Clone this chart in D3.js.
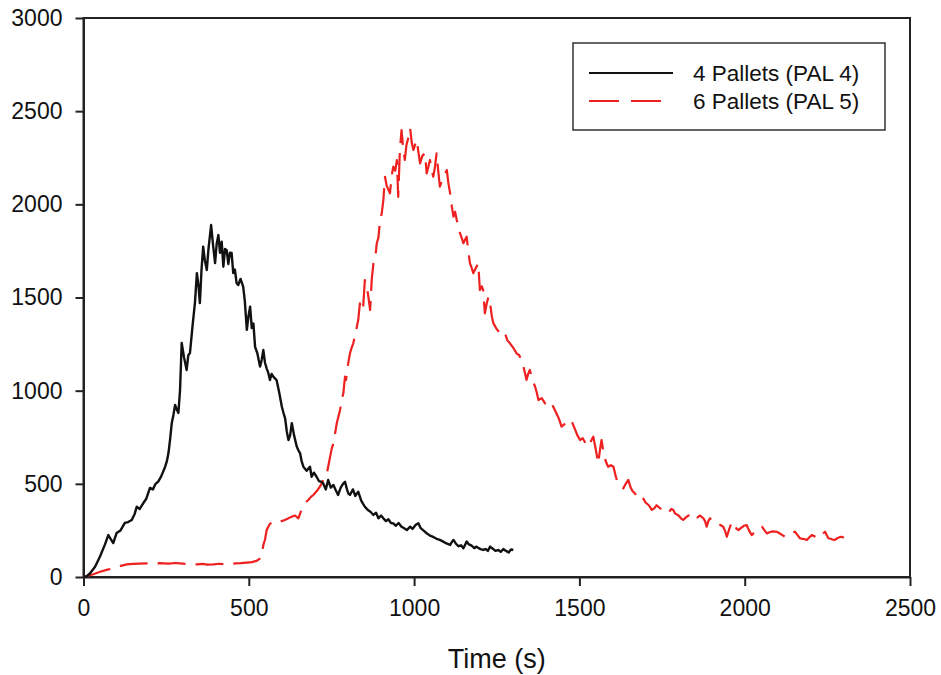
<!DOCTYPE html>
<html>
<head>
<meta charset="utf-8">
<script src="https://cdn.jsdelivr.net/npm/d3@7"></script>
<style>
  body { margin: 0; background: #fff; }
  text { font-family: "Liberation Sans", Arial, sans-serif; fill: #111; }
</style>
</head>
<body>
<script>
// time axis ticks and temperature axis ticks
const xTicks = [0, 500, 1000, 1500, 2000, 2500];
const yTicks = [0, 500, 1000, 1500, 2000, 2500, 3000];
const seriesNames = ['4 Pallets (PAL 4)', '6 Pallets (PAL 5)'];

// 4 pallets (PAL 4)
const pal4Time = [0, 10, 20, 35, 50, 65, 75, 82, 90, 100, 112, 125, 135, 146, 155, 161, 170, 181, 190, 201,
    210, 218, 226, 235, 247, 252, 257, 262, 267, 272, 277, 282, 287, 292, 297, 304, 312, 317, 322, 330,
    337, 343, 348, 352, 357, 362, 367, 373, 378, 386, 392, 398, 403, 408, 413, 418, 423, 428, 433, 438,
    443, 448, 453, 458, 463, 468, 475, 483, 488, 494, 499, 504, 509, 514, 519, 526, 534, 539, 544, 549,
    554, 559, 564, 569, 574, 584, 592, 600, 605, 610, 615, 620, 625, 630, 637, 645, 650, 655, 660, 665,
    675, 685, 690, 697, 705, 712, 720, 725, 733, 740, 748, 756, 762, 770, 778, 786, 791, 797, 801, 806,
    815, 822, 831, 840, 851, 860, 868, 877, 885, 892, 900, 907, 915, 922, 930, 937, 945, 953, 962, 970,
    978, 988, 995, 1005, 1013, 1020, 1028, 1038, 1048, 1058, 1068, 1078, 1088, 1098, 1109, 1114, 1119, 1126, 1134, 1142,
    1149, 1154, 1159, 1166, 1174, 1182, 1189, 1195, 1201, 1209, 1216, 1223, 1230, 1238, 1246, 1255, 1262, 1270, 1278, 1286,
    1293, 1300];
const pal4Temp = [0, 5, 20, 55, 110, 175, 225, 205, 182, 236, 250, 290, 295, 306, 340, 377, 365, 397, 420, 478,
    470, 500, 512, 540, 592, 620, 665, 740, 826, 870, 923, 900, 880, 1003, 1256, 1180, 1111, 1190, 1202, 1350,
    1470, 1631, 1560, 1470, 1650, 1773, 1700, 1648, 1760, 1889, 1780, 1685, 1790, 1835, 1740, 1800, 1665, 1760, 1755, 1680,
    1740, 1739, 1631, 1650, 1578, 1567, 1600, 1558, 1480, 1326, 1400, 1451, 1336, 1360, 1235, 1200, 1129, 1165, 1218, 1150,
    1120, 1095, 1057, 1090, 1075, 1057, 990, 914, 880, 850, 780, 735, 760, 826, 760, 700, 680, 665, 620, 592,
    570, 592, 538, 560, 538, 515, 511, 503, 470, 521, 480, 494, 470, 440, 480, 503, 511, 470, 449, 440,
    470, 435, 458, 410, 377, 360, 350, 333, 345, 315, 330, 315, 300, 310, 290, 288, 275, 290, 270, 262,
    252, 270, 258, 280, 288, 262, 250, 235, 222, 215, 205, 199, 190, 180, 172, 188, 199, 180, 165, 170,
    154, 172, 190, 175, 168, 155, 163, 155, 150, 145, 150, 140, 163, 152, 140, 145, 135, 150, 140, 132,
    148, 145];

// 6 pallets (PAL 5)
const pal5Time = [0, 15, 30, 50, 70, 90, 110, 131, 150, 170, 191, 210, 230, 241, 260, 275, 292, 310, 330, 343,
    360, 375, 393, 410, 430, 443, 460, 475, 494, 510, 525, 534, 539, 544, 549, 554, 559, 564, 569, 579,
    589, 599, 609, 620, 630, 640, 650, 657, 665, 672, 680, 688, 695, 705, 715, 720, 725, 730, 736, 741,
    746, 751, 756, 761, 766, 771, 776, 781, 786, 791, 794, 800, 806, 811, 816, 823, 831, 836, 841, 846,
    851, 857, 862, 867, 872, 877, 882, 887, 892, 897, 902, 907, 912, 917, 922, 927, 932, 937, 943, 948,
    952, 957, 962, 967, 972, 977, 983, 988, 993, 998, 1003, 1008, 1013, 1018, 1025, 1033, 1038, 1043, 1048, 1053,
    1058, 1063, 1068, 1073, 1078, 1085, 1092, 1099, 1104, 1109, 1114, 1119, 1124, 1129, 1134, 1139, 1144, 1149, 1154, 1159,
    1164, 1169, 1174, 1179, 1187, 1194, 1199, 1205, 1209, 1214, 1220, 1225, 1230, 1235, 1240, 1250, 1260, 1268, 1275, 1282,
    1290, 1300, 1310, 1318, 1325, 1332, 1340, 1345, 1350, 1358, 1366, 1371, 1376, 1386, 1396, 1405, 1413, 1421, 1430, 1438,
    1446, 1455, 1465, 1477, 1485, 1494, 1502, 1510, 1518, 1527, 1535, 1542, 1550, 1557, 1562, 1567, 1572, 1580, 1587, 1595,
    1603, 1610, 1618, 1625, 1633, 1640, 1648, 1655, 1661, 1668, 1675, 1685, 1693, 1700, 1710, 1719, 1727, 1733, 1739, 1750,
    1757, 1764, 1772, 1778, 1784, 1790, 1800, 1807, 1814, 1822, 1830, 1840, 1850, 1857, 1865, 1875, 1880, 1885, 1890, 1895,
    1902, 1910, 1918, 1925, 1935, 1940, 1946, 1952, 1961, 1968, 1975, 1981, 1990, 1998, 2006, 2013, 2021, 2030, 2040, 2052,
    2060, 2067, 2075, 2085, 2097, 2105, 2114, 2122, 2130, 2140, 2152, 2160, 2167, 2175, 2188, 2195, 2203, 2210, 2217, 2223,
    2230, 2236, 2243, 2248, 2253, 2260, 2267, 2273, 2280, 2287, 2294, 2300];
const pal5Temp = [0, 8, 15, 28, 38, 47, 58, 68, 70, 72, 73, 70, 74, 73, 72, 75, 73, 70, 69, 68,
    70, 66, 68, 71, 68, 70, 73, 74, 77, 80, 88, 100, 109, 172, 200, 252, 270, 285, 291, 290,
    288, 300, 306, 315, 324, 330, 315, 350, 377, 400, 413, 430, 440, 460, 485, 500, 521, 540, 556, 600,
    646, 690, 718, 770, 825, 860, 896, 950, 986, 1075, 1057, 1140, 1200, 1230, 1254, 1310, 1379, 1469, 1430, 1451,
    1594, 1560, 1500, 1433, 1600, 1683, 1700, 1791, 1820, 1916, 1950, 2023, 2148, 2100, 2080, 2059, 2150, 2202, 2180, 2238,
    2040, 2292, 2399, 2300, 2238, 2320, 2360, 2408, 2330, 2292, 2320, 2345, 2280, 2220, 2260, 2274, 2166, 2200, 2238, 2190,
    2148, 2200, 2274, 2180, 2095, 2130, 2160, 2184, 2110, 2059, 1990, 1934, 1960, 1916, 1880, 1844, 1820, 1791, 1810, 1826,
    1750, 1683, 1660, 1630, 1660, 1683, 1540, 1560, 1540, 1415, 1470, 1504, 1469, 1400, 1361, 1330, 1308, 1320, 1308, 1270,
    1254, 1230, 1200, 1190, 1164, 1120, 1057, 1090, 1111, 1060, 1021, 990, 950, 960, 932, 925, 940, 914, 880, 850,
    807, 820, 845, 834, 800, 760, 735, 745, 720, 700, 730, 753, 680, 610, 680, 735, 680, 620, 592, 600,
    592, 540, 494, 485, 476, 500, 521, 480, 460, 449, 430, 440, 422, 400, 385, 360, 370, 385, 377, 360,
    350, 342, 350, 365, 360, 340, 330, 315, 306, 320, 330, 335, 342, 320, 330, 315, 300, 270, 300, 315,
    300, 288, 285, 280, 270, 250, 216, 250, 297, 280, 260, 252, 265, 275, 279, 250, 225, 240, 255, 270,
    250, 234, 240, 245, 243, 235, 225, 216, 225, 238, 243, 225, 208, 205, 199, 212, 225, 220, 212, 208,
    220, 232, 243, 225, 208, 205, 200, 199, 208, 214, 216, 210];

const width = 941;
const height = 675;
const plotLeft = 83.5, plotRight = 910, plotTop = 18, plotBottom = 577;
const axisColor = '#222';

const x = d3.scaleLinear().domain([0, 2500]).range([plotLeft, plotRight]);
const y = d3.scaleLinear().domain([0, 3000]).range([plotBottom, plotTop]);

const svg = d3.select('body').append('svg')
    .attr('width', width)
    .attr('height', height);

// plot frame
svg.append('rect')
    .attr('x', plotLeft)
    .attr('y', plotTop)
    .attr('width', plotRight - plotLeft)
    .attr('height', plotBottom - plotTop)
    .attr('fill', 'none')
    .attr('stroke', axisColor)
    .attr('stroke-width', 2);

const gx = svg.append('g')
    .attr('transform', `translate(0,${plotBottom})`)
    .call(d3.axisBottom(x).tickValues(xTicks).tickFormat(d3.format('d'))
        .tickSize(9).tickSizeOuter(0).tickPadding(14));

const gy = svg.append('g')
    .attr('transform', `translate(${plotLeft},0)`)
    .call(d3.axisLeft(y).tickValues(yTicks).tickFormat(d3.format('d'))
        .tickSize(8).tickSizeOuter(0).tickPadding(13));

[gx, gy].forEach(g => {
    g.select('.domain').attr('stroke', axisColor).attr('stroke-width', 2);
    g.selectAll('.tick line').attr('stroke', axisColor).attr('stroke-width', 2);
    g.selectAll('.tick text')
        .attr('font-size', 23)
        .attr('font-family', '"Liberation Sans", Arial, sans-serif')
        .attr('fill', '#111');
});

svg.append('text')
    .attr('x', (plotLeft + plotRight) / 2)
    .attr('y', 668)
    .attr('text-anchor', 'middle')
    .attr('font-size', 27)
    .text('Time (s)');

const line = d3.line()
    .x(d => x(d[0]))
    .y(d => y(d[1]));

svg.append('path')
    .datum(d3.zip(pal5Time, pal5Temp))
    .attr('fill', 'none')
    .attr('stroke', '#ee2020')
    .attr('stroke-width', 2.2)
    .attr('stroke-dasharray', '28,10')
    .attr('stroke-linejoin', 'round')
    .attr('d', line);

svg.append('path')
    .datum(d3.zip(pal4Time, pal4Temp))
    .attr('fill', 'none')
    .attr('stroke', '#111')
    .attr('stroke-width', 2.4)
    .attr('stroke-linejoin', 'round')
    .attr('d', line);

// legend
const legend = svg.append('g');
legend.append('rect')
    .attr('x', 573)
    .attr('y', 43)
    .attr('width', 312)
    .attr('height', 87)
    .attr('fill', '#fff')
    .attr('stroke', '#333')
    .attr('stroke-width', 1.5);

const items = legend.selectAll('g.item')
    .data(seriesNames)
    .enter().append('g')
    .attr('class', 'item')
    .attr('transform', (d, i) => `translate(0,${73 + i * 28})`);

items.append('line')
    .attr('x1', 589)
    .attr('x2', 673)
    .attr('stroke', (d, i) => i ? '#ee2020' : '#111')
    .attr('stroke-width', 2)
    .attr('stroke-dasharray', (d, i) => i ? '30,12' : null);

items.append('text')
    .attr('x', 693)
    .attr('dy', '0.35em')
    .attr('font-size', 22.5)
    .text(d => d);
</script>
</body>
</html>
